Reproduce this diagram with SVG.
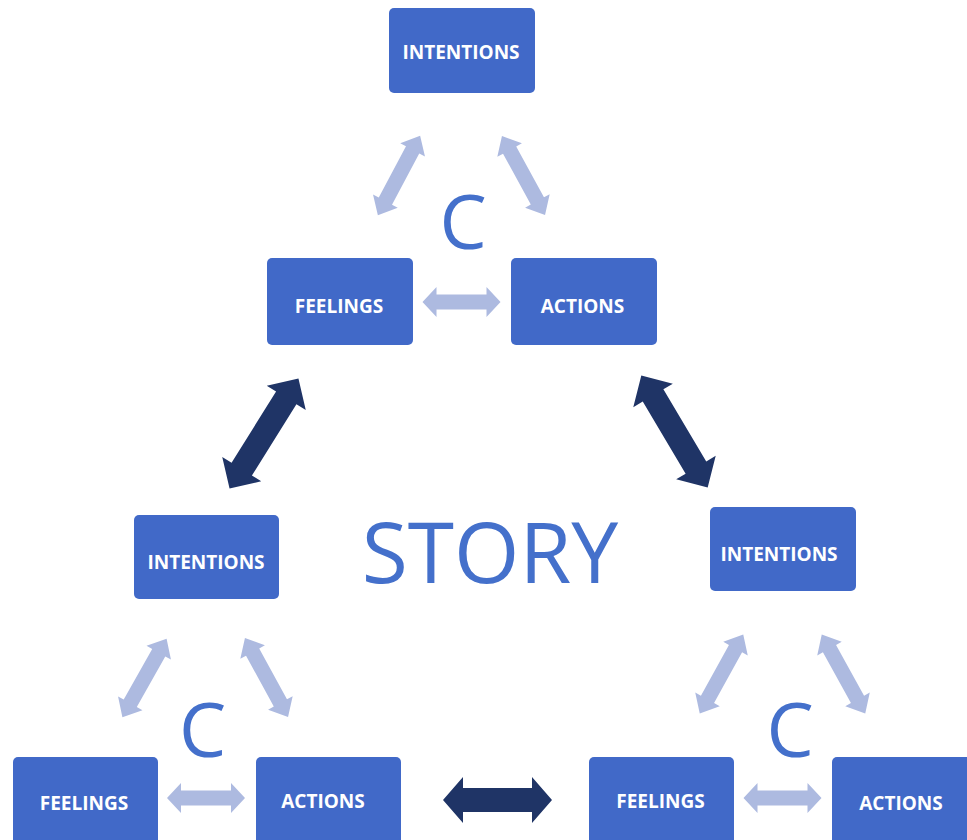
<svg xmlns="http://www.w3.org/2000/svg" xmlns:xlink="http://www.w3.org/1999/xlink" width="967" height="840" viewBox="0 0 967 840">
<style>
.box{fill:#4169C8;}
.lbl{font-family:"Open Sans","Liberation Sans",sans-serif;font-weight:700;font-size:19px;fill:#ffffff;text-anchor:middle;}
.big{font-family:"Open Sans","Liberation Sans",sans-serif;font-weight:400;fill:#4470CB;text-anchor:middle;}
.light{fill:#ADBAE0;}
.dark{fill:#1F3466;}
</style>
<defs>
<path id="ld" d="M-45,0 L-29,-14 L-29,-7.5 L29,-7.5 L29,-14 L45,0 L29,14 L29,7.5 L-29,7.5 L-29,14 Z"/>
<path id="lh" d="M-39,0 L-25,-15 L-25,-7.5 L25,-7.5 L25,-15 L39,0 L25,15 L25,7.5 L-25,7.5 L-25,15 Z"/>
<path id="dd" d="M-65,0 L-42,-23 L-42,-12 L42,-12 L42,-23 L65,0 L42,23 L42,12 L-42,12 L-42,23 Z"/>
<path id="dh" d="M-54.5,0 L-34.5,-23 L-34.5,-12 L34.5,-12 L34.5,-23 L54.5,0 L34.5,23 L34.5,12 L-34.5,12 L-34.5,23 Z"/>
</defs>
<rect width="967" height="840" fill="#ffffff"/>
<g id="connectors">
<use xlink:href="#ld" class="light" transform="translate(399,175.5) rotate(118)"/>
<use xlink:href="#ld" class="light" transform="translate(523.5,175.5) rotate(61.4)"/>
<use xlink:href="#lh" class="light" transform="translate(461.5,302)"/>
<use xlink:href="#ld" class="light" transform="translate(144.5,678) rotate(119.4)"/>
<use xlink:href="#ld" class="light" transform="translate(266.5,677.5) rotate(61.4)"/>
<use xlink:href="#lh" class="light" transform="translate(206,798)"/>
<use xlink:href="#ld" class="light" transform="translate(721.5,674) rotate(118.9)"/>
<use xlink:href="#ld" class="light" transform="translate(843.5,674) rotate(61.1)"/>
<use xlink:href="#lh" class="light" transform="translate(782.5,798)"/>
<use xlink:href="#dd" class="dark" transform="translate(264,433.5) rotate(122)"/>
<use xlink:href="#dd" class="dark" transform="translate(674.5,431.5) rotate(59.3)"/>
<use xlink:href="#dh" class="dark" transform="translate(497.5,800)"/>
</g>
<g id="top-intentions"><rect class="box" x="389" y="8" width="146" height="85" rx="5"/><text class="lbl" x="461" y="59">INTENTIONS</text></g>
<g id="top-feelings"><rect class="box" x="267" y="258" width="146" height="87" rx="5"/><text class="lbl" x="339" y="313">FEELINGS</text></g>
<g id="top-actions"><rect class="box" x="511" y="258" width="146" height="87" rx="5"/><text class="lbl" x="582.5" y="313">ACTIONS</text></g>
<g id="left-intentions"><rect class="box" x="134" y="515" width="145" height="84" rx="5"/><text class="lbl" x="206" y="569">INTENTIONS</text></g>
<g id="left-feelings"><rect class="box" x="13" y="757" width="145" height="90" rx="5"/><text class="lbl" x="84" y="810">FEELINGS</text></g>
<g id="left-actions"><rect class="box" x="256" y="757" width="145" height="90" rx="5"/><text class="lbl" x="323" y="808">ACTIONS</text></g>
<g id="right-intentions"><rect class="box" x="710" y="507" width="146" height="84" rx="5"/><text class="lbl" x="779" y="561">INTENTIONS</text></g>
<g id="right-feelings"><rect class="box" x="589" y="757" width="145" height="90" rx="5"/><text class="lbl" x="660.5" y="808">FEELINGS</text></g>
<g id="right-actions"><rect class="box" x="832" y="757" width="145" height="90" rx="5"/><text class="lbl" x="901" y="810">ACTIONS</text></g>
<g id="labels">
<text class="big" x="463" y="249" font-size="75">C</text>
<text class="big" x="202.5" y="757" font-size="75">C</text>
<text class="big" x="790" y="757" font-size="75">C</text>
<text class="big" x="490" y="583" font-size="84">STORY</text>
</g>
</svg>
